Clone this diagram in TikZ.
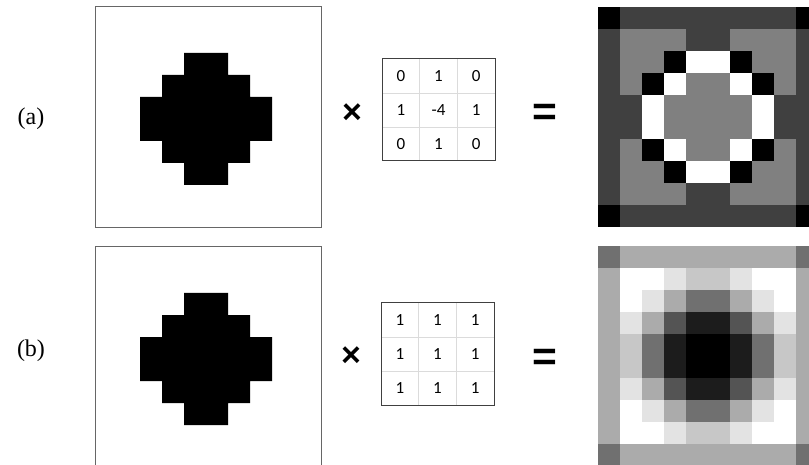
\documentclass[tikz,border=0pt]{standalone}
\usepackage{fontspec}
\setmainfont{Liberation Serif}
\newfontfamily\kernfont{Carlito}
\newfontfamily\opfont{Liberation Sans}
\usetikzlibrary{positioning}

\begin{document}
\begin{tikzpicture}[
  x=1pt, y=-1pt,
  frame/.style={line width=1pt, black!60},
  kgrid/.style={line width=0.8pt, black!14},
  kbox/.style={line width=1pt, black!75},
  knum/.style={font=\kernfont\fontsize{17}{17}\selectfont, inner sep=0pt},
  op/.style={font=\opfont\bfseries\fontsize{34}{34}\selectfont, inner sep=0pt},
  eqop/.style={op, xscale=1.25, yscale=1.2},
  tag/.style={font=\fontsize{24}{24}\selectfont, inner sep=0pt}]

\useasboundingbox (0,0) rectangle (809,465);

% ---- the two input pictures, the same blob on a white ground -----------
\draw[frame] (95,7) rectangle (321,228);
\draw[frame] (95,470)--(95,247)--(321,247)--(321,470);
\foreach \top in {53,293}{
  \fill[black] (184,\top)--++(44,0)--++(0,22)--++(22,0)--++(0,22)
    --++(22,0)--++(0,44)--++(-22,0)--++(0,22)--++(-22,0)--++(0,22)
    --++(-44,0)--++(0,-22)--++(-22,0)--++(0,-22)--++(-22,0)--++(0,-44)
    --++(22,0)--++(0,-22)--++(22,0)--cycle;}

% ---- the two kernels, 3x3, with their weights --------------------------
\foreach \kx/\ky/\lab/\vals in {382/59/a/{0,1,0,1,-4,1,0,1,0},
                                381/303/b/{1,1,1,1,1,1,1,1,1}}{
  \draw[kgrid] (\kx+37.7,\ky)--++(0,102) (\kx+75.4,\ky)--++(0,102)
               (\kx,\ky+34)--++(113,0) (\kx,\ky+68)--++(113,0);
  \draw[kbox] (\kx,\ky) rectangle ++(113,102);
  \foreach \w [count=\i from 0] in \vals{
    \pgfmathtruncatemacro{\col}{mod(\i,3)}
    \pgfmathtruncatemacro{\row}{div(\i,3)}
    \node[knum] (k\lab-\row-\col) at (\kx+18.85+37.7*\col,\ky+17+34*\row) {\w};}
}

% ---- the operators between the pictures --------------------------------
\node[op] (timesa) at (352,114) {×};
\node[op] (timesb) at (351,357) {×};
\node[eqop] (eqa) at (545,115) {=};
\node[eqop] (eqb) at (545,360) {=};

% ---- the labels of the two rows ----------------------------------------
\node[tag] (taga) at (31,119) {(a)};
\node[tag] (tagb) at (31,351) {(b)};

% ---- the two results, 10x10 grey levels (per cent black) ---------------
% (a) laplacian
\foreach \row [count=\r from 0] in {
  {100,75,75,75,75,75,75,75,75,100},
  {75,50,50,50,75,75,50,50,50,75},
  {75,50,50,100,0,0,100,50,50,75},
  {75,50,100,0,50,50,0,100,50,75},
  {75,75,0,50,50,50,50,0,75,75},
  {75,75,0,50,50,50,50,0,75,75},
  {75,50,100,0,50,50,0,100,50,75},
  {75,50,50,100,0,0,100,50,50,75},
  {75,50,50,50,75,75,50,50,50,75},
  {100,75,75,75,75,75,75,75,75,100}}{
  \foreach \v [count=\c from 0] in \row
    \fill[black!\v] (598+22*\c,7+22*\r) rectangle ++(22.4,22.4);}
% (b) box blur
\foreach \row [count=\r from 0] in {
  {56,33,33,33,33,33,33,33,33,56},
  {33,0,0,11,22,22,11,0,0,33},
  {33,0,11,33,56,56,33,11,0,33},
  {33,11,33,67,89,89,67,33,11,33},
  {33,22,56,89,100,100,89,56,22,33},
  {33,22,56,89,100,100,89,56,22,33},
  {33,11,33,67,89,89,67,33,11,33},
  {33,0,11,33,56,56,33,11,0,33},
  {33,0,0,11,22,22,11,0,0,33},
  {56,33,33,33,33,33,33,33,33,56}}{
  \foreach \v [count=\c from 0] in \row
    \fill[black!\v] (598+22*\c,245.7+22*\r) rectangle ++(22.4,22.4);}
\end{tikzpicture}
\end{document}
